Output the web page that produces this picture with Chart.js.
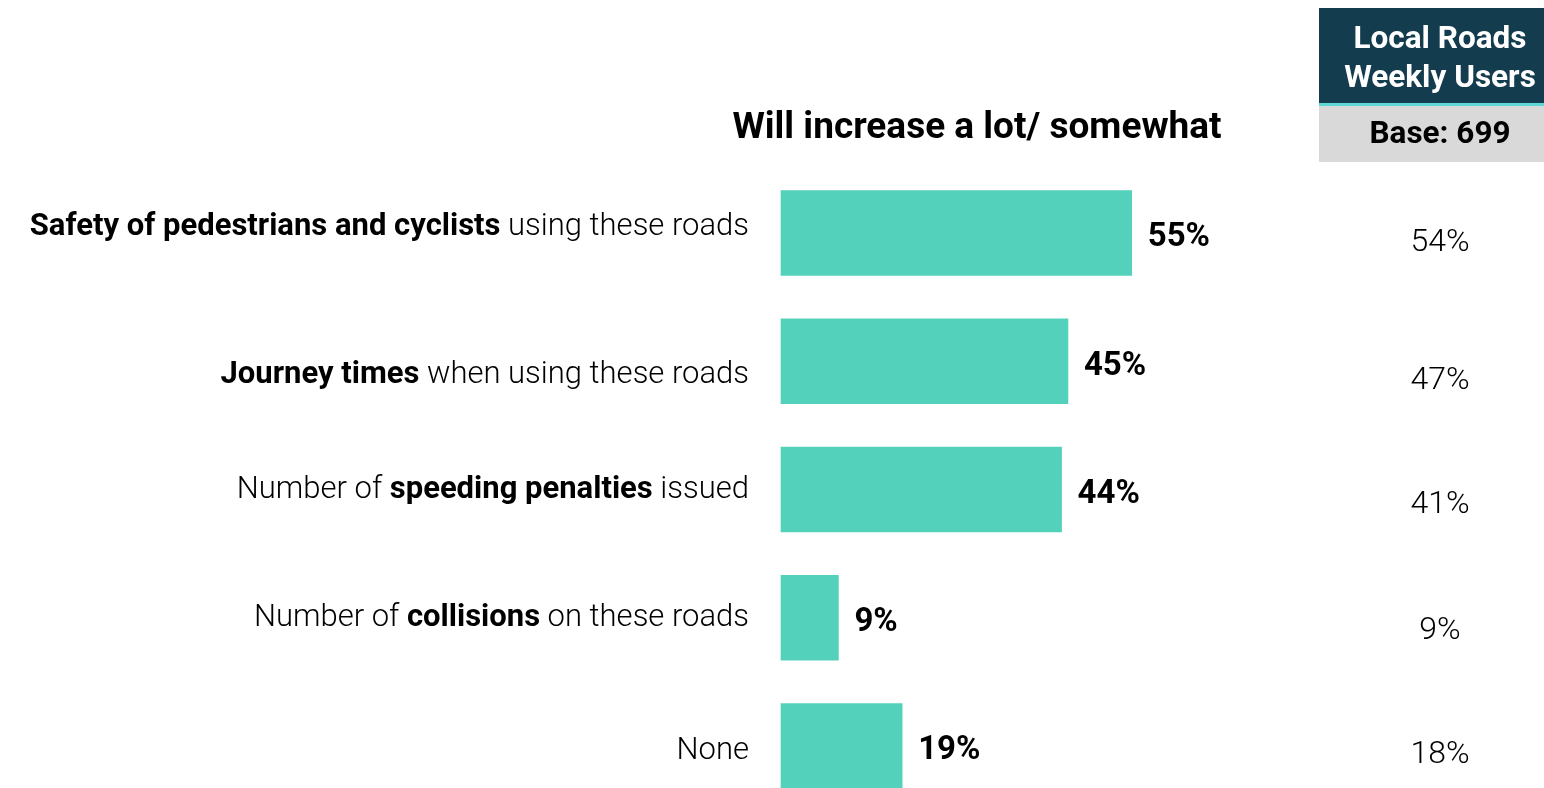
<!DOCTYPE html>
<html>
<head>
<meta charset="utf-8">
<script src="https://cdn.jsdelivr.net/npm/chart.js@4/dist/chart.umd.min.js"></script>
<style>
html,body{margin:0;padding:0;background:#fff;}
#wrap{width:1544px;height:788px;position:relative;}
</style>
</head>
<body>
<div id="wrap"><canvas id="c" width="1544" height="788"></canvas></div>
<script>
const categories = [
  "**Safety of pedestrians and cyclists** using these roads",
  "**Journey times** when using these roads",
  "Number of **speeding penalties** issued",
  "Number of **collisions** on these roads",
  "None"
];
const totalValues = [55, 45, 44, 9, 19];
const weeklyUsersValues = [54, 47, 41, 9, 18];
const chartTitle = "Will increase a lot/ somewhat";
const columnHeader = ["Local Roads", "Weekly Users"];
const columnBase = "Base: 699";

const FONT = "Roboto, 'Liberation Sans', sans-serif";
// small vertical nudges (px) matching the reference's text placement
const LABEL_NUDGE = [-6, 14, 1, 0, 5];
const COLUMN_NUDGE = [10, 20, 15, 13, 9];

function parseRich(s){
  const parts = s.split("**");
  return parts.map((t,i)=>({text:t,bold:i%2===1})).filter(p=>p.text.length);
}

const overlay = {
  id:'overlay',
  afterDraw(chart){
    const ctx = chart.ctx;
    const ys = chart.scales.y;
    const meta = chart.getDatasetMeta(0);
    ctx.save();
    ctx.fillStyle = '#000';
    ctx.font = `bold 37px ${FONT}`;
    ctx.textAlign = 'center';
    ctx.textBaseline = 'middle';
    ctx.fillText(chartTitle, 977, 129);
    ctx.fillStyle = '#133c4e';
    ctx.fillRect(1319, 8, 225, 96);
    ctx.fillStyle = '#5fd6d6';
    ctx.fillRect(1319, 103, 225, 3);
    ctx.fillStyle = '#d9d9d9';
    ctx.fillRect(1319, 106, 225, 56);
    ctx.fillStyle = '#fff';
    ctx.font = `bold 31.5px ${FONT}`;
    ctx.fillText(columnHeader[0], 1440, 40);
    ctx.fillText(columnHeader[1], 1440, 79);
    ctx.fillStyle = '#000';
    ctx.fillText(columnBase, 1440, 135);
    categories.forEach((lab,i)=>{
      const y = ys.getPixelForValue(i) + LABEL_NUDGE[i];
      const segs = parseRich(lab);
      const widths = segs.map(s=>{ctx.font = `${s.bold?'bold ':'300 '}31px ${FONT}`; return ctx.measureText(s.text).width;});
      let x = 749 - widths.reduce((a,b)=>a+b,0);
      ctx.textAlign='left';
      segs.forEach((s,k)=>{
        ctx.font = `${s.bold?'bold ':'300 '}31px ${FONT}`;
        ctx.fillStyle = '#000';
        ctx.fillText(s.text, x, y);
        x += widths[k];
      });
    });
    meta.data.forEach((bar,i)=>{
      ctx.font = `bold 33px ${FONT}`;
      ctx.textAlign='left';
      ctx.fillStyle='#000';
      ctx.fillText(totalValues[i]+'%', bar.x + 16, bar.y + 5);
      ctx.font = `300 32px ${FONT}`;
      ctx.textAlign='center';
      ctx.fillText(weeklyUsersValues[i]+'%', 1440, bar.y + COLUMN_NUDGE[i]);
    });
    ctx.restore();
  }
};

new Chart(document.getElementById('c'), {
  type:'bar',
  data:{
    labels: categories,
    datasets:[{
      data: totalValues,
      backgroundColor:'#53d1bb',
      borderWidth:0,
      barThickness:85,
      clip:false
    }]
  },
  options:{
    indexAxis:'y',
    responsive:false,
    animation:false,
    layout:{padding:{left:781, right:221, top:233, bottom:42}},
    scales:{
      x:{display:false, min:0, max:85, grid:{display:false}},
      y:{display:false, offset:false, grid:{display:false}}
    },
    plugins:{legend:{display:false}, tooltip:{enabled:false}}
  },
  plugins:[overlay]
});
</script>
</body>
</html>
